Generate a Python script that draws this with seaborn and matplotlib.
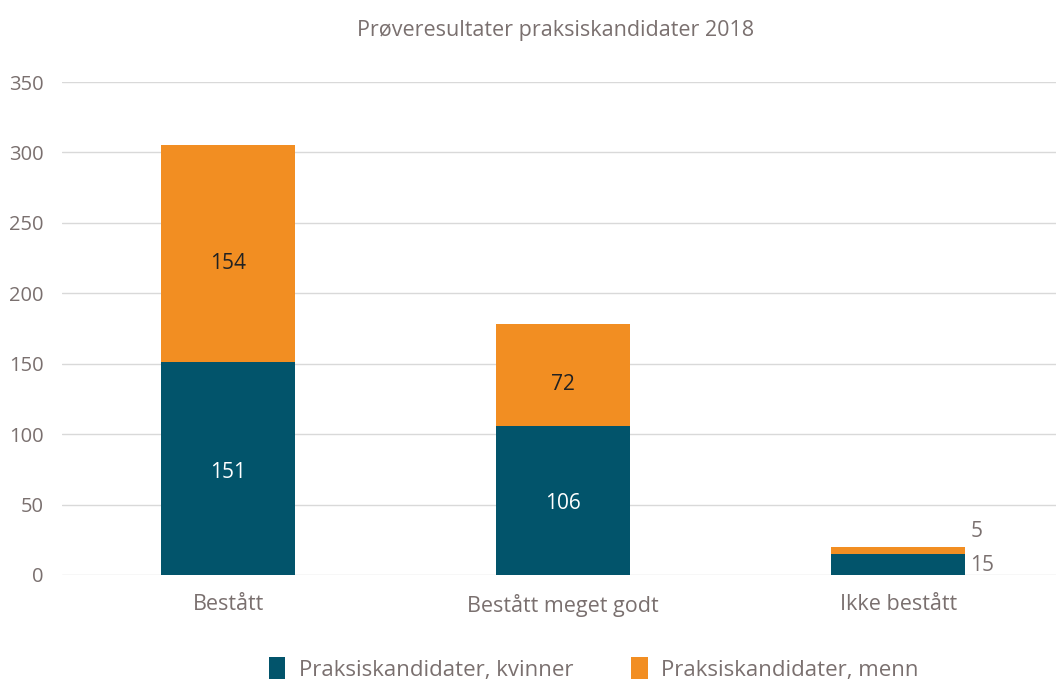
import matplotlib
matplotlib.use("Agg")
import matplotlib.pyplot as plt
import seaborn as sns
import pandas as pd
from matplotlib.patches import Patch

categories = ["Bestått", "Bestått meget godt", "Ikke bestått"]
kvinner = [151, 106, 15]
menn = [154, 72, 5]
series_names = ["Praksiskandidater, kvinner", "Praksiskandidater, menn"]
title = "Prøveresultater praksiskandidater 2018"
yticks = [0, 50, 100, 150, 200, 250, 300, 350]

TEAL = "#02546B"
ORANGE = "#F28E22"
GRAY = "#7A706F"
GRID = "#D9D9D9"

sns.set_theme(style="white")
plt.rcParams['font.family'] = ['Open Sans', 'DejaVu Sans']

df = pd.DataFrame({"cat": categories, "kvinner": kvinner, "menn": menn})
df["total"] = df["kvinner"] + df["menn"]

fig = plt.figure(figsize=(10.56, 6.84), dpi=100)
ax = fig.add_axes([0.0587, 0.1594, 0.9413, 0.7206])

sns.barplot(data=df, x="cat", y="total", color=ORANGE, width=0.4,
            saturation=1, ax=ax, zorder=3, linewidth=0)
sns.barplot(data=df, x="cat", y="kvinner", color=TEAL, width=0.4,
            saturation=1, ax=ax, zorder=3, linewidth=0)

ax.set_ylim(0, 350)
ax.set_xlim(-0.4955, 2.47)
ax.set_yticks(yticks)
ax.set_yticklabels([str(v) for v in yticks], fontsize=14.5, color=GRAY)
ax.tick_params(axis="x", labelsize=15.5, colors=GRAY, length=0, pad=14)
ax.tick_params(axis="y", length=0, pad=13)
ax.set_xlabel("")
ax.set_ylabel("")
for s in ax.spines.values():
    s.set_visible(False)
ax.yaxis.grid(True, color=GRID, linewidth=1, zorder=0)
ax.set_axisbelow(True)

for i, (k, m) in enumerate(zip(kvinner, menn)):
    if k >= 30:
        ax.text(i, k / 2 - 2.5, str(k), ha="center", va="center", color="white", fontsize=15)
        ax.text(i, k + m / 2 - 6.5, str(m), ha="center", va="center", color="#222222", fontsize=15)
    else:
        ax.text(i + 0.215, k / 2 - 1, str(k), ha="left", va="center", color=GRAY, fontsize=15)
        ax.text(i + 0.215, k + m + 11, str(m), ha="left", va="center", color=GRAY, fontsize=15)

fig.text(0.526, 0.956, title, ha="center", va="center", fontsize=15.5, color=GRAY)

handles = [Patch(facecolor=TEAL, edgecolor="none"), Patch(facecolor=ORANGE, edgecolor="none")]
fig.legend(handles, series_names, loc="center", bbox_to_anchor=(0.562, 0.022), ncol=2,
           frameon=False, fontsize=16, labelcolor=GRAY, handlelength=0.75, handleheight=1.15,
           columnspacing=2.6, handletextpad=0.6)

fig.savefig("out.png", dpi=100)
